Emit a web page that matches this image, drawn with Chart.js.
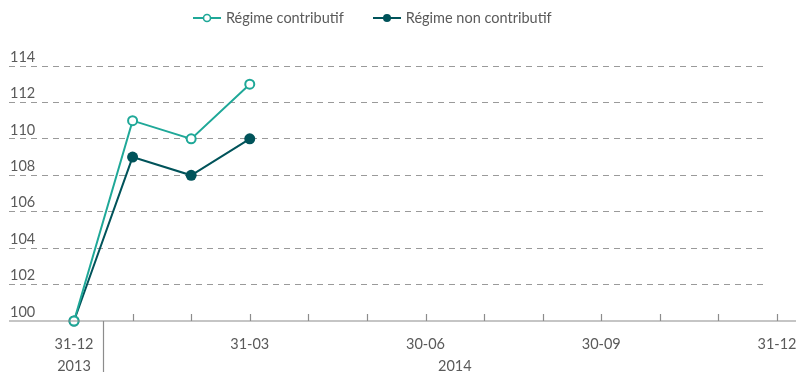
<!DOCTYPE html>
<html>
<head>
<meta charset="utf-8">
<script src="https://cdn.jsdelivr.net/npm/chart.js@4"></script>
<style>
  html, body { margin: 0; padding: 0; background: #fff; }
  #wrap { position: relative; width: 796px; height: 372px; }
  #legend { position: absolute; top: 9px; left: 193px; display: flex; font-family: Lato, sans-serif; font-weight: 400; font-size: 14.5px; color: #5a5a5a; }
  #legend .item { display: flex; align-items: center; margin-right: 29px; }
  #legend svg { margin-right: 5px; }
</style>
</head>
<body>
<div id="wrap">
  <canvas id="chart" width="796" height="372"></canvas>
  <div id="legend"></div>
</div>
<script>
// month-end dates, Dec 2013 .. Dec 2014
var dates = ['31-12', '31-01', '28-02', '31-03', '30-04', '31-05', '30-06', '31-07', '31-08', '30-09', '31-10', '30-11', '31-12'];
var years = ['2013', '2014', '2014', '2014', '2014', '2014', '2014', '2014', '2014', '2014', '2014', '2014', '2014'];
var shownLabels = [0, 3, 6, 9, 12];

var contributif = [100, 111, 110, 113];
var nonContributif = [100, 109, 108, 110];

var yTicks = [100, 102, 104, 106, 108, 110, 112, 114];

var teal = '#1fa898';
var darkTeal = '#00535a';
var axisGrey = '#8c8c8c';
var textGrey = '#5a5a5a';
var fontFamily = 'Lato, sans-serif';

function toPoints(values) {
  return values.map(function(v, i) { return {x: i, y: v}; });
}

// ticks pointing up, year separator and year labels
var axisExtras = {
  id: 'axisExtras',
  afterDraw: function(chart) {
    var ctx = chart.ctx, x = chart.scales.x, area = chart.chartArea;
    var base = area.bottom;
    ctx.save();
    ctx.strokeStyle = axisGrey;
    ctx.lineWidth = 1.2;
    ctx.beginPath();
    ctx.moveTo(area.left, base);
    ctx.lineTo(chart.width, base);
    for (var i = 1; i < dates.length; i++) {
      var px = Math.round(x.getPixelForValue(i)) + 0.5;
      ctx.moveTo(px, base);
      ctx.lineTo(px, base - 7);
    }
    // separator between years
    for (var j = 1; j < years.length; j++) {
      if (years[j] !== years[j - 1]) {
        var sx = Math.round(x.getPixelForValue(j - 0.5)) + 0.5;
        ctx.moveTo(sx, base);
        ctx.lineTo(sx, chart.height);
      }
    }
    ctx.stroke();

    ctx.fillStyle = textGrey;
    ctx.font = '400 14.5px ' + fontFamily;
    ctx.textAlign = 'center';
    ctx.textBaseline = 'middle';
    var start = 0;
    for (var k = 1; k <= years.length; k++) {
      if (k === years.length || years[k] !== years[start]) {
        var mid = (start + k - 1) / 2;
        if (k - start > 1) mid = (start - 0.5 + k - 0.5) / 2;
        ctx.fillText(years[start], x.getPixelForValue(mid), 366);
        start = k;
      }
    }
    ctx.restore();
  }
};

var chart = new Chart(document.getElementById('chart').getContext('2d'), {
  type: 'line',
  data: {
    datasets: [{
      label: 'Régime contributif',
      data: toPoints(contributif),
      borderColor: teal,
      backgroundColor: '#fff',
      borderWidth: 2,
      pointRadius: 4.5,
      pointBorderWidth: 2,
      pointBackgroundColor: '#fff',
      pointBorderColor: teal,
      clip: false,
      tension: 0
    }, {
      label: 'Régime non contributif',
      data: toPoints(nonContributif),
      borderColor: darkTeal,
      backgroundColor: darkTeal,
      borderWidth: 2,
      pointRadius: 5.5,
      pointBorderWidth: 0,
      pointBackgroundColor: darkTeal,
      clip: false,
      tension: 0
    }]
  },
  options: {
    responsive: false,
    animation: false,
    layout: { padding: { top: 66, left: 9, right: 30, bottom: 0 } },
    plugins: {
      legend: { display: false },
      tooltip: { enabled: false }
    },
    scales: {
      x: {
        type: 'linear',
        min: -1.1096,
        max: 11.812,
        afterBuildTicks: function(scale) {
          scale.ticks = dates.map(function(d, i) { return {value: i}; });
        },
        afterFit: function(scale) {
          scale.height = 51;
          scale.paddingLeft = 0;
          scale.paddingRight = 0;
        },
        grid: { display: false, drawTicks: false },
        border: { display: false },
        ticks: {
          autoSkip: false,
          maxRotation: 0,
          padding: 12,
          color: textGrey,
          font: { family: fontFamily, size: 14.5, weight: 400, lineHeight: 1.5 },
          callback: function(value) {
            return shownLabels.indexOf(value) >= 0 ? dates[value] : '';
          }
        }
      },
      y: {
        min: 100,
        max: 114,
        afterBuildTicks: function(scale) {
          scale.ticks = yTicks.map(function(v) { return {value: v}; });
        },
        afterFit: function(scale) {
          scale.width = 0;
          scale.paddingTop = 0;
          scale.paddingBottom = 0;
        },
        grid: {
          color: function(c) { return c.tick && c.tick.value === 100 ? 'rgba(0,0,0,0)' : '#9a9a9a'; },
          lineWidth: 1,
          drawTicks: false
        },
        border: { display: false, dash: [6, 5] },
        ticks: {
          mirror: true,
          padding: 1,
          labelOffset: -9,
          color: textGrey,
          font: { family: fontFamily, size: 14.5, weight: 400 }
        }
      }
    }
  },
  plugins: [axisExtras]
});

// html legend built from the datasets
var legendEl = document.getElementById('legend');
chart.data.datasets.forEach(function(ds, i) {
  var item = document.createElement('div');
  item.className = 'item';
  var fill = i === 0 ? '#fff' : ds.borderColor;
  var r = i === 0 ? 3.5 : 4;
  item.innerHTML = '<svg width="28" height="12"><line x1="0" y1="6" x2="28" y2="6" stroke="' + ds.borderColor + '" stroke-width="2"/>' +
    '<circle cx="14" cy="6" r="' + r + '" fill="' + fill + '" stroke="' + ds.borderColor + '" stroke-width="' + (i === 0 ? 1.6 : 0) + '"/></svg>' +
    '<span>' + ds.label + '</span>';
  legendEl.appendChild(item);
});
</script>
</body>
</html>
